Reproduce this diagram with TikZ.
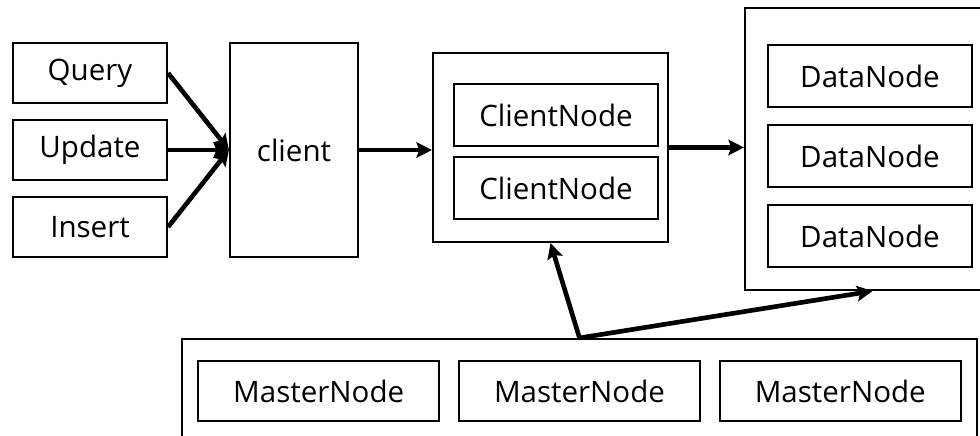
\documentclass[tikz,border=0pt]{standalone}
\usepackage{fontspec}
\setmainfont{Open Sans}
\usepackage{tikz}
\usetikzlibrary{arrows.meta}
\newcommand{\boxfont}{\fontsize{21}{25}\selectfont}
\tikzstyle{op} = [rectangle, minimum width=3.85cm, minimum height=1.5cm,
inner sep=0pt, text centered, draw=black, line width=1.5pt, font=\boxfont]
\tikzstyle{unit} = [rectangle, minimum height=1.55cm, inner sep=0pt,
text centered, draw=black, line width=1.5pt, font=\boxfont]
\tikzstyle{group} = [rectangle, inner sep=0pt, draw=black, line width=1.5pt]
\tikzstyle{arrow} = [line width=3.3pt,->,>={Stealth[length=11pt,width=11pt,inset=2pt]}]

\begin{document}
\begin{tikzpicture}
    \useasboundingbox (0,0) rectangle (24.5,-10.875);
    \clip (0,0) rectangle (24.5,-10.875);
    % requests
    \node (q) [op] at (2.25,-1.825) {Query};
    \node (u) [op, below of= q, node distance = 1.925cm] {Update};
    \node (i) [op, below of= u, node distance = 1.925cm] {Insert};
    \node (cl) [op, right of= u, node distance = 5.1cm, minimum width=3.2cm,
    minimum height=5.35cm] {client};
    % client nodes
    \node (cg) [group, minimum width=5.875cm, minimum height=4.725cm] at
    (13.7625,-3.6875) {};
    \node (cn1) [unit, minimum width=5.1cm] at (13.9,-2.875) {ClientNode};
    \node (cn2) [unit, minimum width=5.1cm, below of= cn1, node distance =
    1.825cm] {ClientNode};
    % data nodes
    \node (dg) [group, minimum width=6.375cm, minimum height=7.05cm] at
    (21.8125,-3.725) {};
    \node (dn1) [unit, minimum width=5.1cm] at (21.75,-1.9) {DataNode};
    \node (dn2) [unit, minimum width=5.1cm, below of= dn1, node distance =
    2cm] {DataNode};
    \node (dn3) [unit, minimum width=5.1cm, below of= dn2, node distance =
    2cm] {DataNode};
    % master nodes
    \node (mg) [group, minimum width=19.875cm, minimum height=2.775cm] at
    (14.4875,-9.8625) {};
    \node (mn2) [unit, minimum width=6.025cm, minimum height=1.5cm] at
    (14.4875,-9.775) {MasterNode};
    \node (mn1) [unit, minimum width=6.025cm, minimum height=1.5cm, left of=
    mn2, node distance = 6.52cm] {MasterNode};
    \node (mn3) [unit, minimum width=6.025cm, minimum height=1.5cm, right of=
    mn2, node distance = 6.52cm] {MasterNode};
    \draw [arrow] (q.east) -- (cl.west);
    \draw [arrow] (u.east) -- (cl.west);
    \draw [arrow] (i.east) -- (cl.west);
    \draw [arrow] (cl.east) -- (cl.east -| cg.west);
    \draw [arrow] (cg.east) -- (cg.east -| dg.west);
    \draw [arrow] (mg.north) -- (cg.south);
    \draw [arrow] (mg.north) -- (dg.south);
\end{tikzpicture}
\end{document}
